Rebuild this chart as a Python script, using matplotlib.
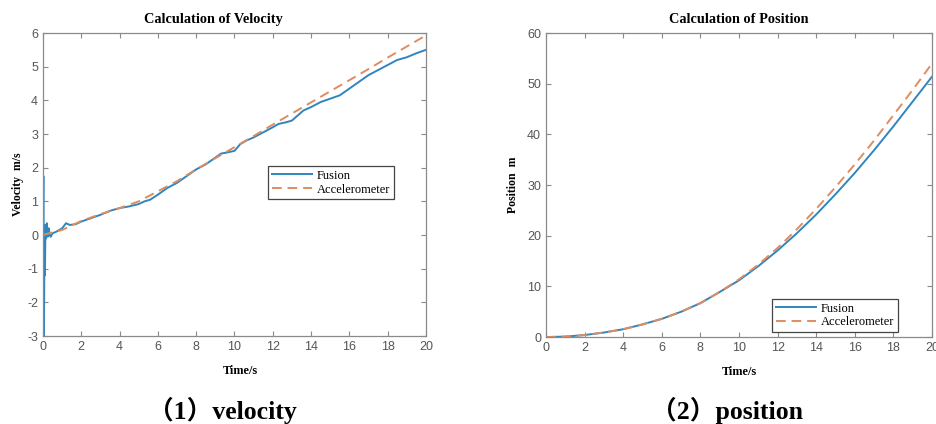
import matplotlib
matplotlib.use("Agg")
import matplotlib.pyplot as plt

plt.rcParams['axes.unicode_minus'] = False

# ---- data ----
# velocity, fusion estimate (includes start-up transient near t=0)
vel_fus_t = [0, 0.02, 0.05, 0.08, 0.1, 0.13, 0.16, 0.2, 0.25, 0.3, 0.35, 0.4,
             0.5, 0.7, 1.0, 1.2, 1.4, 1.7, 2.0, 2.5, 3.0, 3.5, 4.0, 4.5, 5.0,
             5.3, 5.6, 6.0, 6.5, 7.0, 7.5, 8.0, 8.5, 9.0, 9.3, 9.6, 10.0, 10.3,
             10.6, 11.0, 11.5, 12.0, 12.3, 12.7, 13.0, 13.3, 13.6, 14.0, 14.5,
             15.0, 15.5, 16.0, 16.5, 17.0, 17.5, 18.0, 18.5, 19.0, 19.5, 20.0]
vel_fus_v = [0, 1.75, -3.0, 0.2, -1.2, 0.3, -0.1, 0.35, -0.05, 0.2, 0.0, -0.05,
             0.05, 0.1, 0.2, 0.35, 0.3, 0.32, 0.4, 0.5, 0.6, 0.72, 0.8, 0.85, 0.92,
             1.0, 1.05, 1.2, 1.4, 1.55, 1.75, 1.95, 2.1, 2.3, 2.42, 2.45, 2.5, 2.7,
             2.8, 2.9, 3.05, 3.2, 3.3, 3.35, 3.4, 3.55, 3.7, 3.8, 3.95,
             4.05, 4.15, 4.35, 4.55, 4.75, 4.9, 5.05, 5.2, 5.28, 5.4, 5.5]

# velocity, accelerometer only
vel_acc_t = [0, 0.3, 1, 2, 3, 4, 5, 6, 7, 8, 9, 10, 11, 12, 13, 14, 15, 16,
             17, 18, 19, 20]
vel_acc_v = [0, 0.05, 0.15, 0.42, 0.62, 0.8, 1.0, 1.3, 1.6, 1.95, 2.28, 2.61,
             2.94, 3.28, 3.61, 3.94, 4.27, 4.6, 4.93, 5.27, 5.6, 5.93]

# position
pos_t = [0, 1, 2, 3, 4, 5, 6, 7, 8, 9, 10, 11, 12, 13, 14, 15, 16, 17, 18,
         19, 20]
pos_fus = [0, 0.1, 0.4, 0.9, 1.55, 2.5, 3.6, 5.0, 6.7, 8.9, 11.2, 14.0, 17.1,
           20.5, 24.2, 28.2, 32.4, 36.9, 41.6, 46.5, 51.4]
pos_acc = [0, 0.1, 0.4, 0.9, 1.55, 2.5, 3.6, 5.0, 6.7, 8.9, 11.4, 14.3, 17.6,
           21.3, 25.3, 29.6, 34.1, 38.8, 43.8, 48.8, 54.0]

BLUE = '#2f86bf'
ORANGE = '#de8c60'
SERIF = 'Liberation Serif'
SANS = 'Liberation Sans'


def style_axes(ax):
    for sp in ax.spines.values():
        sp.set_color('#8a8a8a')
        sp.set_linewidth(0.9)
    ax.tick_params(direction='in', top=True, right=True, length=3.5,
                   width=0.8, color='#8a8a8a', labelcolor='#555555',
                   labelsize=9)
    for lab in ax.get_xticklabels() + ax.get_yticklabels():
        lab.set_family(SANS)


def add_legend(ax, loc, anchor):
    leg = ax.legend(['Fusion', 'Accelerometer'], loc=loc, bbox_to_anchor=anchor,
                    borderaxespad=0, fancybox=False, framealpha=1,
                    edgecolor='#444444', handlelength=3.2, handletextpad=0.4,
                    labelspacing=0.15, borderpad=0.3,
                    prop={'family': SERIF, 'size': 9})
    leg.get_frame().set_linewidth(0.9)


fig = plt.figure(figsize=(9.37, 4.24), dpi=100)

# left: velocity
ax1 = fig.add_axes([0.0459, 0.2075, 0.4087, 0.7146])
ax1.plot(vel_fus_t, vel_fus_v, color=BLUE, lw=1.4)
ax1.plot(vel_acc_t, vel_acc_v, color=ORANGE, lw=1.4, ls=(0, (5, 3)))
ax1.set_xlim(0, 20)
ax1.set_ylim(-3, 6)
ax1.set_xticks(range(0, 21, 2))
ax1.set_yticks(range(-3, 7))
ax1.set_title('Calculation of Velocity', family=SERIF, weight='bold',
              fontsize=10.3, pad=7, x=0.446)
ax1.set_xlabel('Time/s', family=SERIF, weight='bold', fontsize=8.8,
               labelpad=9)
ax1.xaxis.set_label_coords(0.515, -0.095)
ax1.set_ylabel('Velocity  m/s', family=SERIF, weight='bold', fontsize=8.5,
               labelpad=2)
style_axes(ax1)
add_legend(ax1, 'upper left', (0.587, 0.561))

# right: position
ax2 = fig.add_axes([0.5827, 0.205, 0.412, 0.717])
ax2.plot(pos_t, pos_fus, color=BLUE, lw=1.4)
ax2.plot(pos_t, pos_acc, color=ORANGE, lw=1.4, ls=(0, (5, 3)))
ax2.set_xlim(0, 20)
ax2.set_ylim(0, 60)
ax2.set_xticks(range(0, 21, 2))
ax2.set_yticks(range(0, 61, 10))
ax2.set_title('Calculation of Position', family=SERIF, weight='bold',
              fontsize=10.3, pad=7)
ax2.set_xlabel('Time/s', family=SERIF, weight='bold', fontsize=8.8,
               labelpad=9)
ax2.xaxis.set_label_coords(0.5, -0.095)
ax2.set_ylabel('Position  m', family=SERIF, weight='bold', fontsize=8.5,
               labelpad=6)
style_axes(ax2)
add_legend(ax2, 'lower left', (0.585, 0.016))

# captions under each panel
cap_font = [SERIF, 'Noto Sans CJK SC']
fig.text(0.237, 0.033, '（1）velocity', family=cap_font, weight='bold',
         fontsize=18.5, ha='center', va='center')
fig.text(0.776, 0.033, '（2）position', family=cap_font, weight='bold',
         fontsize=18.5, ha='center', va='center')

fig.savefig('out.png', dpi=100)
